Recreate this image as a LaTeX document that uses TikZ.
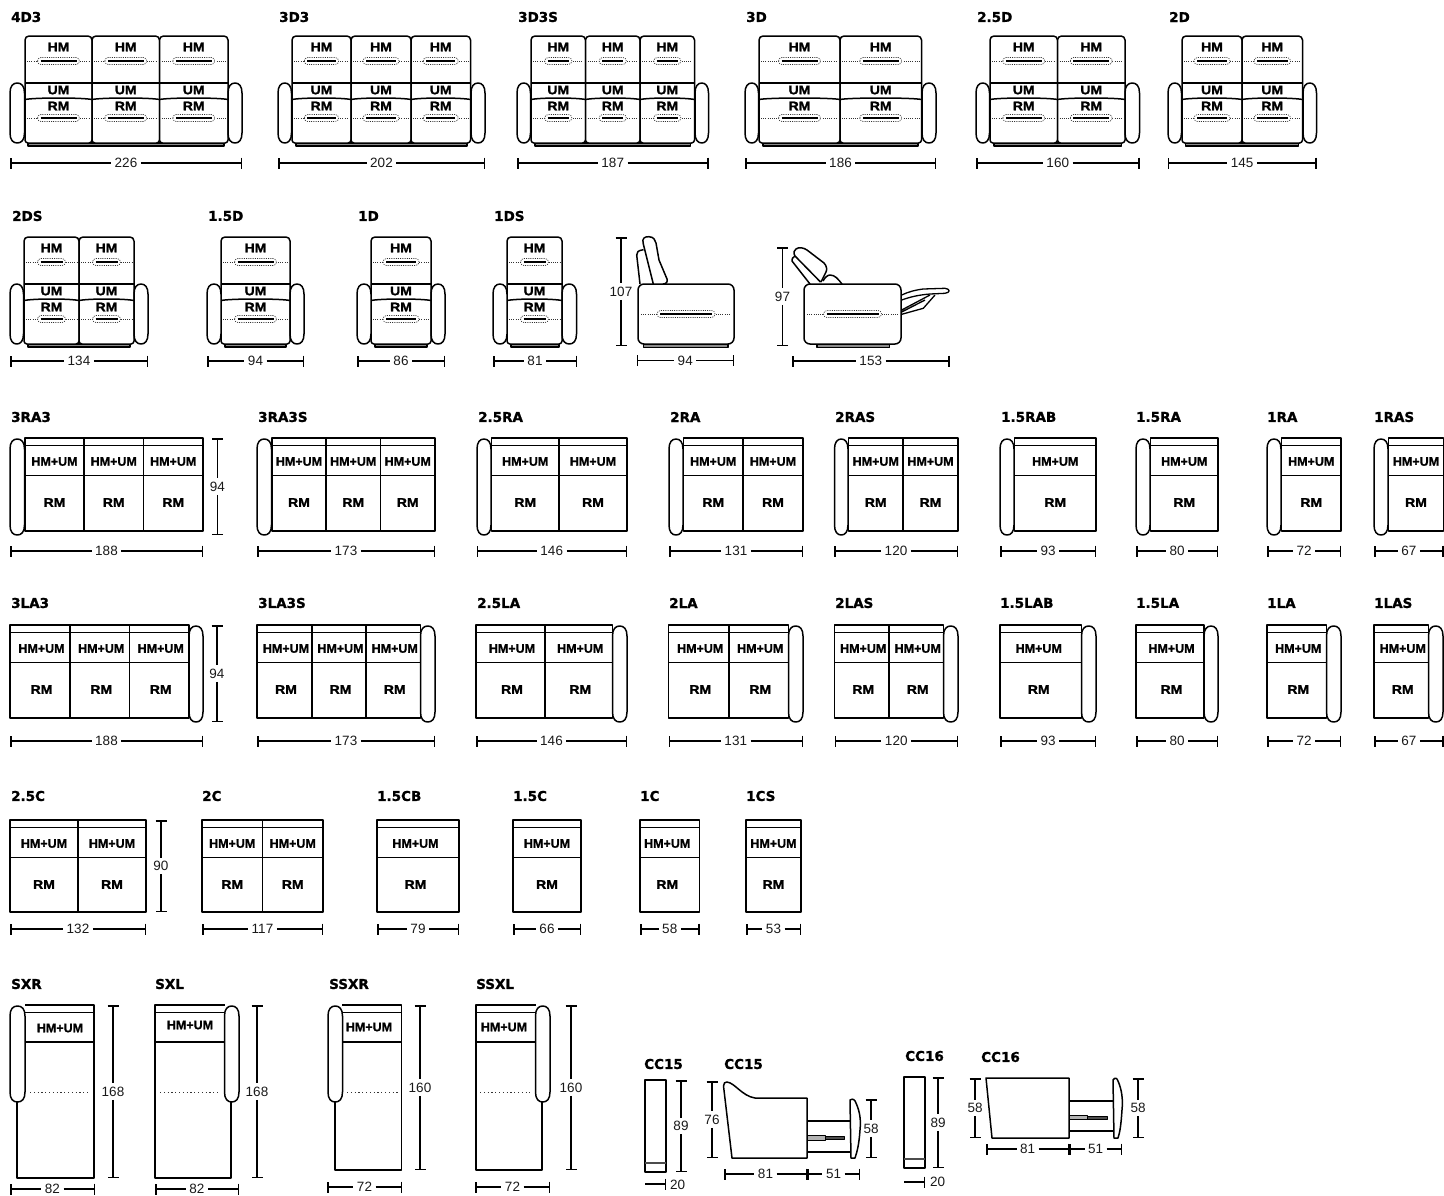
\documentclass[tikz,border=0pt]{standalone}
\usepackage{fontspec}
\setmainfont{Liberation Sans}
\newfontfamily\titlefont{DejaVu Sans}[BoldFeatures={FakeBold=1.2}]
\newfontfamily\seatfont{Liberation Sans}[BoldFeatures={FakeStretch=1.12,FakeBold=1.5}]
\newfontfamily\pairfont{Liberation Sans}[BoldFeatures={FakeBold=1.2}]
\usetikzlibrary{arrows.meta,calc}
\tikzset{font=\fontsize{13.5}{14}\selectfont}

% grip: centre x, y, half width of the oval, ends of the dotted line
\newcommand{\grip}[5]{
  \draw[dotline] (#4,#2) -- (#5,#2);
  \draw[dotline, fill=white, rounded corners=3.5pt] ({#1-#3},{#2-3.5}) rectangle ({#1+#3},{#2+3.5});
  \draw[gripline] ({#1-#3+3},#2) -- ({#1+#3-3},#2);
}
% dimension lines
\newcommand{\dimh}[5]{
  \coordinate (#1a) at (#2,#4);
  \coordinate (#1b) at (#3,#4);
  \node[dimlabel] (#1) at ($(#1a)!0.5!(#1b)$) {#5};
  \draw[dimline, dimstart] (#1a) -- (#1);
  \draw[dimline, dimend] (#1) -- (#1b);
}
\newcommand{\dimv}[5]{
  \coordinate (#1a) at (#2,#3);
  \coordinate (#1b) at (#2,#4);
  \node[dimlabel] (#1) at ($(#1a)!0.5!(#1b)$) {#5};
  \draw[dimline, dimstart] (#1a) -- (#1);
  \draw[dimline, dimend] (#1) -- (#1b);
}
\newcommand{\armrest}[2]{
  \pgfmathsetmacro\am{(#1+#2)/2}
  \draw[outline, fill=white] (#1,\armtop+10) .. controls (#1,\armtop+3) and (#1+3,\armtop) .. (\am,\armtop)
    .. controls (#2-3,\armtop) and (#2,\armtop+3) .. (#2,\armtop+10) -- (#2,\armend-10)
    .. controls (#2,\armend-3) and (#2-3,\armend) .. (\am,\armend)
    .. controls (#1+3,\armend) and (#1,\armend-3) .. (#1,\armend-10) -- cycle;
}
% sofa seen from the front: id, title, title x, cushions, dim from, dim to, dim text
\newcommand{\sofa}[7]{
  \node[titlelabel] (#1t) at (#3,\titleoff) {#2};
  \draw[outline, fill=black!45] ({#5+18},107) rectangle ({#6-18},110);
  \foreach \xa/\xb [count=\i] in {#4} {
    \pgfmathsetmacro\gw{min(21,(\xb-\xa)*0.8-30)}
    \pgfmathsetmacro\xm{(\xa+\xb)/2}
    \draw[outline, rounded corners=4pt, fill=white] (\xa,47) -- (\xa,0) -- (\xb,0) -- (\xb,47);
    \draw[outline, rounded corners=3pt, fill=white] (\xa,47) -- (\xa,107) -- (\xb,107) -- (\xb,47);
    \draw[outline] (\xa,47) -- (\xb,47);
    \draw[outline] (\xa,63.5) .. controls ({\xa+10},61.5) and ({\xb-10},61.5) .. (\xb,63.5);
    \grip{\xm}{25}{\gw}{\xa+2}{\xb-2}
    \grip{\xm}{82}{\gw}{\xa+2}{\xb-2}
    \node[seatlabel] (#1h\i) at (\xm,11) {HM};
    \node[seatlabel] (#1u\i) at (\xm,54) {UM};
    \node[seatlabel] (#1r\i) at (\xm,70) {RM};
  }
  \dimh{#1d}{#5}{#6}{\dimoff}{#7}
}
% seat seen from above: id, title, title x, cushions, dim from, dim to, dim text
\newcommand{\seats}[7]{
  \node[titlelabel] (#1t) at (#3,\titleoff) {#2};
  \foreach \xa/\xb [count=\i] in {#4} {
    \pgfmathsetmacro\xm{(\xa+\xb)/2+\labshift}
    \draw[outline] (\xa,0) rectangle (\xb,\seatend);
    \draw[outline] (\xa,7.5) -- (\xb,7.5);
    \draw[outline] (\xa,37.5) -- (\xb,37.5);
    \node[pairlabel] (#1h\i) at (\xm,23.5) {HM+UM};
    \node[seatlabel] (#1r\i) at (\xm,64.5) {RM};
  }
  \dimh{#1d}{#5}{#6}{\dimoff}{#7}
}
% chaise: side under the arm, far side, inner side of the arm, end, dotted from, dotted to
\newcommand{\chaise}[6]{
  \draw[outline] (#1,97) -- (#1,#4) -- (#2,#4) -- (#2,0) -- (#3,0);
  \draw[outline] (#3,7.5) -- (#2,7.5);
  \draw[outline] (#3,37) -- (#2,37);
  \draw[draw=black!80, line width=1pt, dash pattern=on 1.2pt off 2.6pt] (#5,87) -- (#6,87);
}

\begin{document}
\begin{tikzpicture}
  [x=1pt, y=-1pt,
  outline/.style={draw=black, line width=1.5pt, line join=round},
  dotline/.style={draw=black!80, line width=0.7pt, dash pattern=on 1pt off 1.2pt},
  gripline/.style={draw=black, line width=1.8pt},
  dimline/.style={draw=black, line width=1.5pt},
  dimstart/.style={{Bar[width=11pt,line width=1.5pt]}-},
  dimend/.style={-{Bar[width=11pt,line width=1.5pt]}},
  dimlabel/.style={text=black!90, inner sep=3.5pt, outer sep=0pt},
  titlelabel/.style={anchor=west, inner sep=0pt, font=\fontsize{13.5}{14}\titlefont\bfseries},
  seatlabel/.style={inner sep=0pt, font=\fontsize{12.5}{14}\seatfont\bfseries},
  pairlabel/.style={inner sep=0pt, font=\fontsize{12.5}{14}\pairfont\bfseries}]
  \path[use as bounding box, clip] (0,0) rectangle (1444,1195);
  \def\labshift{0}

  % row 1
  \begin{scope}[shift={(0,36)}]
    \def\titleoff{-19}\def\dimoff{127}\def\armtop{47}\def\armend{107}
    \sofa{dfourthree}{4D3}{11}{25/92,92/159.5,159.5/228}{10}{242}{226}
    \armrest{10}{24.5}\armrest{228}{242}
    \sofa{dthree}{3D3}{279}{292/351,351/411,411/470.5}{278}{485}{202}
    \armrest{278}{291.5}\armrest{471}{485}
    \sofa{dthrees}{3D3S}{518}{531/585.5,585.5/640,640/694.5}{517}{708.5}{187}
    \armrest{517}{530.5}\armrest{695}{708.5}
    \sofa{dthreeb}{3D}{746}{759/840,840/921.5}{745}{936}{186}
    \armrest{745}{758.5}\armrest{922}{936}
    \sofa{dhalf}{2.5D}{977}{990/1057.5,1057.5/1125}{976}{1139.5}{160}
    \armrest{976}{989.5}\armrest{1125}{1139.5}
    \sofa{dtwo}{2D}{1169}{1182/1242,1242/1302.5}{1167.5}{1316.5}{145}
    \armrest{1168}{1181.5}\armrest{1303}{1316.5}
  \end{scope}

  % row 2
  \begin{scope}[shift={(0,237)}]
    \def\titleoff{-21}\def\dimoff{124}\def\armtop{47}\def\armend{107}
    \sofa{dtwos}{2DS}{12}{24/79,79/134}{10}{148}{134}
    \armrest{10}{23.5}\armrest{134}{148}
    \sofa{donehalf}{1.5D}{208}{221/290}{207}{304}{94}
    \armrest{207}{221}\armrest{290}{304}
    \sofa{done}{1D}{358}{371/431}{357}{445}{86}
    \armrest{357}{371}\armrest{431}{445}
    \sofa{dones}{1DS}{494}{507/562}{493}{577}{81}
    \armrest{493}{507}\armrest{562}{576.5}
  \end{scope}

  % side views
  \draw[outline] (640,284) -- (636.7,255) .. controls (636.5,252) and (638,250.5) .. (643.5,249.7);
  \draw[outline, fill=white] (653.3,284) -- (643.3,244) .. controls (641.5,238) and (645,236.5) .. (649,236.7)
    .. controls (654,237) and (655,240) .. (656,243) -- (659,260) -- (667,279) .. controls (668,282) and (666,284) .. (663,284);
  \draw[outline, fill=black!45] (643.5,344) rectangle (728,347.5);
  \draw[outline, fill=white, rounded corners=6pt] (638,284) rectangle (734,344);
  \grip{686}{314}{29}{641}{731}
  \dimv{sidea}{621}{237}{346}{107}
  \dimh{sideb}{636.5}{734}{360.5}{94}

  \draw[outline, fill=white] (823,281) .. controls (825,277) and (828,275) .. (830,275) .. controls (835,275) and (838,279) .. (842,284);
  \draw[outline] (810,284) -- (792,261) .. controls (791,259) and (793,257.5) .. (795,256);
  \draw[outline, fill=white] (820.5,282) -- (795,256) .. controls (793,253) and (794,250) .. (796,249)
    .. controls (799,246.5) and (804,248) .. (807,250) -- (824,263) .. controls (827,266) and (827,270) .. (826,272) -- (821,282);
  \draw[outline, fill=black!45] (817,344) rectangle (889.5,347.5);
  \draw[outline, fill=white, rounded corners=6pt] (804,284) rectangle (901,344);
  \grip{852.5}{314}{29}{807}{899}
  \draw[outline, line width=1.3pt] (901.7,295) .. controls (908,292) and (915,290) .. (923.3,289) -- (945,288.3)
    .. controls (950.5,289) and (950.5,292.5) .. (945,293.3) -- (930,294) .. controls (918,295) and (910,297) .. (901.7,300);
  \draw[outline, line width=1.3pt] (901.7,310) -- (930,295) (901.7,312) -- (925,300) (901.7,314.3) -- (923.3,308.3) -- (935,295);
  \dimv{sidec}{782.5}{247}{346}{97}
  \dimh{sided}{792}{949.5}{361}{153}

  % row 3
  \begin{scope}[shift={(0,438)}]
    \def\titleoff{-21}\def\dimoff{113}\def\armtop{1}\def\armend{97}\def\seatend{93}
    \seats{rthree}{3RA3}{11}{25/84,84/143.5,143.5/203}{10}{203}{188}
    \armrest{10}{24.5}
    \dimv{rthreev}{217.5}{0}{97}{94}
    \seats{rthrees}{3RA3S}{258}{272/326,326/380.5,380.5/435}{257}{435}{173}
    \armrest{257}{271.5}
    \seats{rhalf}{2.5RA}{478}{491.5/559,559/627}{476.5}{627}{146}
    \armrest{477}{491}
    \seats{rtwo}{2RA}{670}{683.5/743,743/803}{669}{803}{131}
    \armrest{669}{683}
    \seats{rtwos}{2RAS}{835}{848.5/903,903/958}{834}{958}{120}
    \armrest{834.5}{848}
    \seats{ronehb}{1.5RAB}{1001}{1014.5/1096}{1000}{1096}{93}
    \armrest{1000}{1014}
    \seats{roneh}{1.5RA}{1136}{1150.5/1218}{1136}{1218}{80}
    \armrest{1136}{1150}
    \seats{rone}{1RA}{1267}{1281.5/1341}{1267}{1341}{72}
    \armrest{1267}{1281}
    \seats{rones}{1RAS}{1374}{1388.5/1443.5}{1374}{1443.5}{67}
    \armrest{1374}{1388}
  \end{scope}

  % row 4
  \begin{scope}[shift={(0,625)}]
    \def\titleoff{-22}\def\dimoff{116}\def\armtop{1}\def\armend{97}\def\seatend{93}\def\labshift{1.5}
    \seats{lthree}{3LA3}{11}{10/70,70/129.5,129.5/189}{10}{203}{188}
    \armrest{189}{203}
    \dimv{lthreev}{217}{0}{97}{94}
    \seats{lthrees}{3LA3S}{258}{257/312,312/366,366/420.5}{257}{435}{173}
    \armrest{420.5}{435}
    \seats{lhalf}{2.5LA}{477}{476/545,545/612.5}{476}{627}{146}
    \armrest{612.5}{627}
    \seats{ltwo}{2LA}{669}{668.5/729,729/788.5}{668.5}{803}{131}
    \armrest{788.5}{803}
    \seats{ltwos}{2LAS}{835}{834.5/889,889/943.5}{834.5}{958}{120}
    \armrest{943.5}{958}
    \def\labshift{-2}
    \seats{lonehb}{1.5LAB}{1000}{1000/1081.5}{1000}{1096}{93}
    \armrest{1081.5}{1096}
    \def\labshift{1.5}
    \seats{loneh}{1.5LA}{1136}{1136/1204}{1136}{1218}{80}
    \armrest{1204}{1218}
    \seats{lone}{1LA}{1267}{1267/1326.5}{1267}{1341}{72}
    \armrest{1326.5}{1341}
    \seats{lones}{1LAS}{1374}{1374/1428.5}{1374}{1443.5}{67}
    \armrest{1428.5}{1443}
  \end{scope}

  % row 5
  \begin{scope}[shift={(0,820)}]
    \def\titleoff{-24}\def\dimoff{109}\def\seatend{92}
    \seats{chalf}{2.5C}{11}{10/78,78/146}{10}{146}{132}
    \dimv{chalfv}{161}{0}{92}{90}
    \seats{ctwo}{2C}{202}{202/262.5,262.5/323}{202}{323}{117}
    \def\labshift{-2.5}
    \seats{conehb}{1.5CB}{377}{377/459}{377}{459}{79}
    \def\labshift{0}
    \seats{coneh}{1.5C}{513}{513/581}{513}{581}{66}
    \def\labshift{-2.5}
    \seats{cone}{1C}{640}{640/699.5}{640}{699.5}{58}
    \def\labshift{0}
    \seats{cones}{1CS}{746}{746/801}{746}{801}{53}
  \end{scope}

  % row 6
  \begin{scope}[shift={(0,1005)}]
    \def\armtop{1}\def\armend{97}
    \node[titlelabel] (sxrt) at (11,-21) {SXR};
    \chaise{17}{94}{25}{173}{30}{90}
    \armrest{10}{25}
    \node[pairlabel] (sxrh) at (60,23) {HM+UM};
    \dimv{sxrv}{113}{0}{173}{168}
    \dimh{sxrd}{10}{95}{184}{82}

    \node[titlelabel] (sxlt) at (155,-21) {SXL};
    \chaise{231}{155}{225}{173}{160}{220}
    \armrest{224.5}{239}
    \node[pairlabel] (sxlh) at (190,20) {HM+UM};
    \dimv{sxlv}{257}{0}{173}{168}
    \dimh{sxld}{155}{239}{184}{82}

    \node[titlelabel] (ssxrt) at (329,-21) {SSXR};
    \chaise{335}{401.5}{342}{165}{347}{398}
    \armrest{328}{342.5}
    \node[pairlabel] (ssxrh) at (369,22) {HM+UM};
    \dimv{ssxrv}{420}{0}{165}{160}
    \dimh{ssxrd}{327}{402}{182}{72}

    \node[titlelabel] (ssxlt) at (476,-21) {SSXL};
    \chaise{542}{476}{535.5}{165}{480}{530}
    \armrest{535.5}{550}
    \node[pairlabel] (ssxlh) at (504,22) {HM+UM};
    \dimv{ssxlv}{571}{0}{165}{160}
    \dimh{ssxld}{475}{550}{182}{72}
  \end{scope}

  % cc15
  \node[titlelabel] (cca) at (644,1064) {CC15};
  \draw[outline] (645,1080) rectangle (666,1172);
  \draw[outline, draw=black!70] (645,1163) -- (666,1163);
  \dimv{ccav}{681}{1080}{1172}{89}
  \coordinate (ccab) at (645,1184);
  \coordinate (ccac) at (666,1184);
  \node[dimlabel, anchor=west, inner sep=0pt] (ccah) at (670,1185) {20};
  \draw[dimline, dimstart, dimend] (ccab) -- (ccac);

  \node[titlelabel] (ccb) at (724,1064) {CC15};
  \draw[outline] (727,1082) .. controls (735,1083) and (742,1096) .. (755,1098) -- (807,1098) -- (807,1158) -- (732,1158) -- (723.5,1086) .. controls (723.5,1083) and (725,1082) .. (727,1082);
  \draw[outline] (807,1121) -- (850,1121) (807,1152) -- (850,1152);
  \draw[outline, line width=1pt, fill=black!30] (807.5,1135) rectangle (825,1140);
  \draw[outline, line width=1pt, fill=black!70] (825,1136) rectangle (844,1139);
  \draw[outline, fill=white] (851,1158) -- (850,1100) .. controls (853,1098) and (855,1100) .. (856,1103) .. controls (860,1112) and (861,1120) .. (860,1130) .. controls (859,1145) and (857,1152) .. (855,1158) -- cycle;
  \dimv{ccbv}{712}{1081}{1158}{76}
  \dimv{ccbw}{871}{1099}{1158}{58}
  \dimh{ccbd}{724}{807}{1174}{81}
  \dimh{ccbe}{807}{860}{1174}{51}

  % cc16
  \node[titlelabel] (ccc) at (905,1056) {CC16};
  \draw[outline] (904,1077) rectangle (925,1168);
  \draw[outline, draw=black!70] (904,1159) -- (925,1159);
  \dimv{cccv}{938}{1077}{1168}{89}
  \coordinate (cccb) at (904,1182);
  \coordinate (cccc) at (925,1182);
  \node[dimlabel, anchor=west, inner sep=0pt] (ccch) at (930,1182) {20};
  \draw[dimline, dimstart, dimend] (cccb) -- (cccc);

  \node[titlelabel] (ccd) at (981,1057) {CC16};
  \draw[outline] (986,1078) -- (1069,1078) -- (1069,1138) -- (992,1138) -- cycle;
  \draw[outline] (1069,1101) -- (1113,1101) (1069,1131) -- (1113,1131);
  \draw[outline, line width=1pt, fill=black!30] (1069.5,1115) rectangle (1087,1119);
  \draw[outline, line width=1pt, fill=black!70] (1087,1116) rectangle (1107,1119);
  \draw[outline, fill=white] (1114,1138) -- (1113,1080) .. controls (1115,1077) and (1117,1078) .. (1118,1081) .. controls (1122,1090) and (1123,1100) .. (1122,1110) .. controls (1121,1125) and (1120,1132) .. (1118,1138) -- cycle;
  \dimv{ccdv}{975}{1078}{1138}{58}
  \dimv{ccdw}{1138}{1078}{1138}{58}
  \dimh{ccdd}{986}{1069}{1149}{81}
  \dimh{ccde}{1069}{1122}{1149}{51}
\end{tikzpicture}
\end{document}
